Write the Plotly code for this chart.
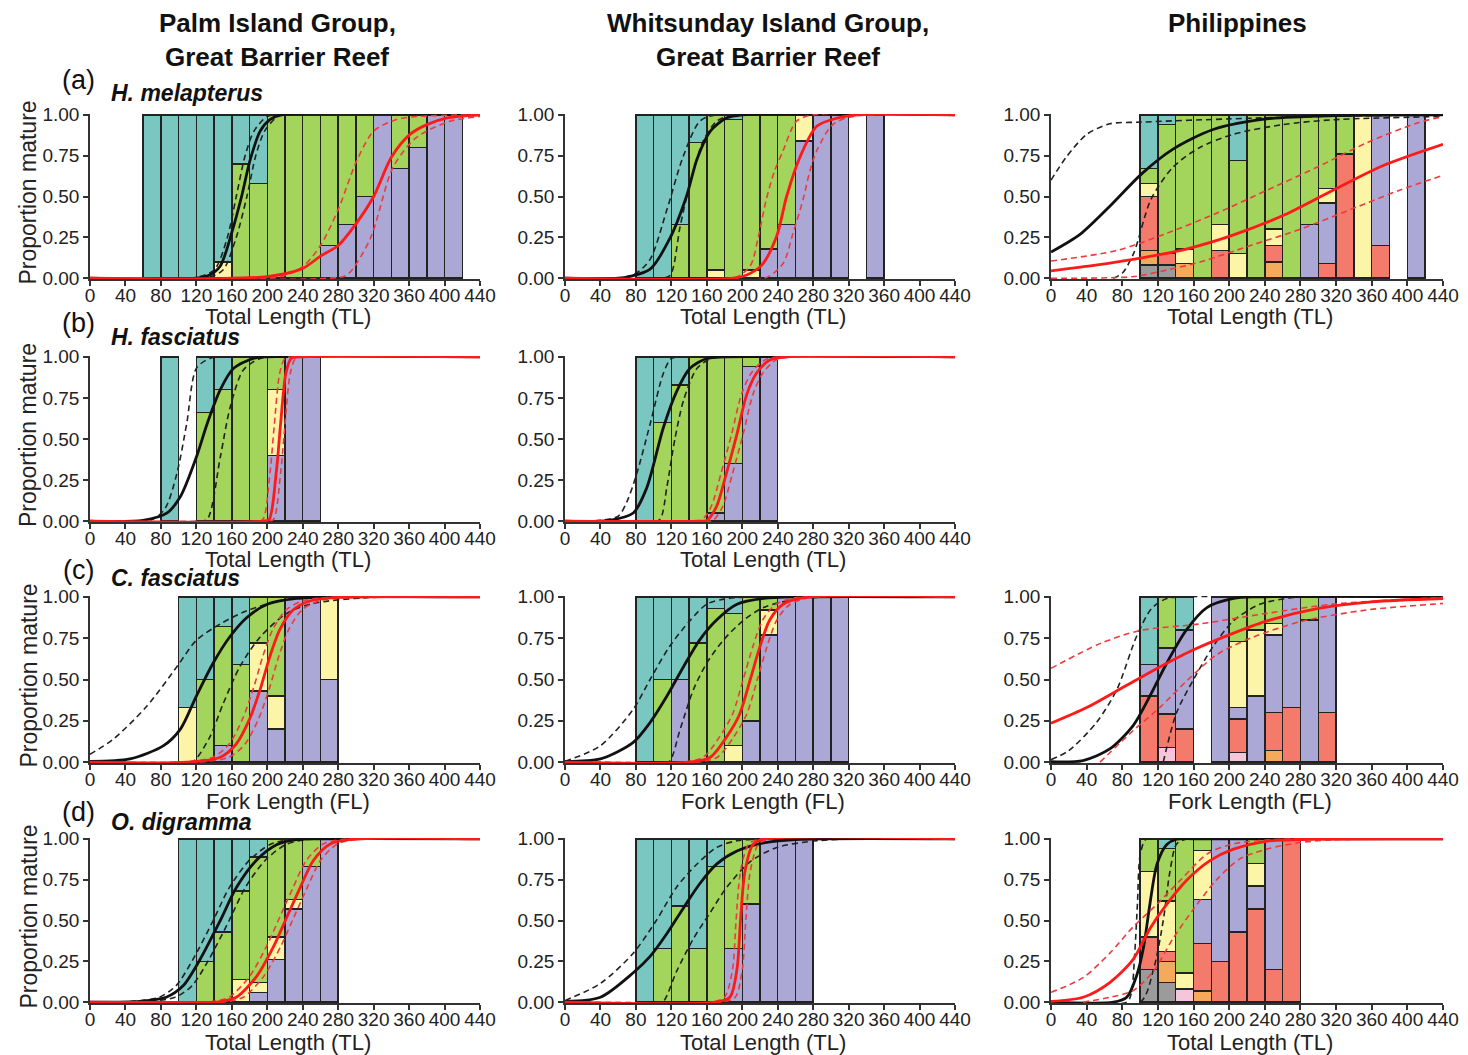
import plotly.graph_objects as go

# ---------------- DATA ----------------
X_TICKS = [0, 40, 80, 120, 160, 200, 240, 280, 320, 360, 400, 440]
Y_TICKS = [0, 0.25, 0.5, 0.75, 1.0]
Y_TICK_TEXT = ["0.00", "0.25", "0.50", "0.75", "1.00"]

COL_TITLES = [["Palm Island Group,", "Great Barrier Reef"],
              ["Whitsunday Island Group,", "Great Barrier Reef"],
              ["Philippines"]]
ROW_LABELS = ["(a)", "(b)", "(c)", "(d)"]
SPECIES = ["H. melapterus", "H. fasciatus", "C. fasciatus", "O. digramma"]
X_TITLES = ["Total Length (TL)", "Total Length (TL)", "Fork Length (FL)", "Total Length (TL)"]
Y_TITLE = "Proportion mature"

# ---- (a) H. melapterus, Palm ----
A1_BINS = [60, 80, 100, 120, 140, 160, 180, 200, 220, 240, 260, 280, 300, 320, 340, 360, 380, 400]
A1_YELLOW = [0, 0, 0, 0, 0.1, 0, 0, 0, 0, 0, 0, 0, 0, 0, 0, 0, 0, 0]
A1_PURPLE = [0, 0, 0, 0, 0, 0, 0, 0, 0, 0, 0.2, 0.33, 0.5, 1, 0.67, 0.8, 1, 1]
A1_GREEN = [0, 0, 0, 0, 0, 0.7, 0.58, 1, 1, 1, 0.8, 0.67, 0.5, 0, 0.33, 0.2, 0, 0]
A1_TEAL = [1, 1, 1, 1, 0.9, 0.3, 0.42, 0, 0, 0, 0, 0, 0, 0, 0, 0, 0, 0]
A1_F = [(0, 0), (120, 0), (135, 0.02), (147, 0.075), (160, 0.28), (171, 0.5), (181, 0.73), (192, 0.9), (203, 0.97), (215, 1), (440, 1)]
A1_F_LO = [(0, 0), (115, 0), (140, 0.05), (155, 0.25), (165, 0.5), (175, 0.75), (185, 0.9), (200, 0.99), (215, 1), (440, 1)]
A1_F_HI = [(0, 0), (130, 0), (150, 0.05), (165, 0.25), (177, 0.5), (187, 0.75), (197, 0.9), (212, 0.99), (225, 1), (440, 1)]
A1_M = [(0, 0), (200, 0.01), (240, 0.06), (260, 0.135), (280, 0.2), (301, 0.34), (320, 0.5), (340, 0.74), (361, 0.88), (380, 0.94), (402, 0.98), (440, 1)]
A1_M_LO = [(0, 0), (215, 0.01), (240, 0.07), (260, 0.2), (280, 0.42), (301, 0.72), (320, 0.9), (345, 0.97), (370, 0.99), (440, 1)]
A1_M_HI = [(0, 0), (270, 0), (290, 0.02), (316, 0.24), (342, 0.68), (368, 0.86), (406, 0.96), (440, 0.99)]

# ---- (a) H. melapterus, Whitsunday ----
A2_BINS = [80, 100, 120, 140, 160, 180, 200, 220, 240, 260, 280, 300, 340]
A2_PURPLE = [0, 0, 0, 0, 0, 0, 0, 0.18, 0.33, 0.84, 1, 1, 1]
A2_YELLOW = [0, 0, 0, 0, 0.05, 0, 0.05, 0, 0, 0.16, 0, 0, 0]
A2_GREEN = [0, 0, 0.33, 0.83, 0.95, 0.97, 0.95, 0.82, 0.67, 0, 0, 0, 0]
A2_TEAL = [1, 1, 0.67, 0.17, 0, 0.03, 0, 0, 0, 0, 0, 0, 0]
A2_F = [(0, 0), (60, 0), (73, 0.01), (96, 0.055), (118, 0.24), (137, 0.5), (149, 0.73), (164, 0.9), (182, 0.98), (200, 1), (440, 1)]
A2_F_LO = [(0, 0), (60, 0), (80, 0.03), (96, 0.115), (115, 0.42), (133, 0.74), (152, 0.96), (170, 1), (440, 1)]
A2_F_HI = [(0, 0), (110, 0), (119, 0.02), (130, 0.32), (141, 0.58), (156, 0.84), (171, 0.96), (190, 1), (440, 1)]
A2_M = [(0, 0), (190, 0), (205, 0.02), (222, 0.08), (239, 0.26), (250, 0.5), (265, 0.74), (284, 0.93), (307, 0.98), (330, 1), (440, 1)]
A2_M_LO = [(0, 0), (190, 0), (209, 0.075), (218, 0.25), (227, 0.48), (236, 0.65), (246, 0.78), (261, 0.96), (280, 1), (440, 1)]
A2_M_HI = [(0, 0), (225, 0), (246, 0.09), (257, 0.27), (269, 0.49), (276, 0.65), (284, 0.78), (302, 0.94), (325, 0.99), (440, 1)]

# ---- (a) H. melapterus, Philippines ----
A3_BINS = [100, 120, 140, 160, 180, 200, 220, 240, 260, 280, 300, 320, 340, 360, 400]
A3_GRAY = [0.08, 0.08, 0, 0, 0, 0, 0, 0, 0, 0, 0, 0, 0, 0, 0]
A3_ORANGE = [0.09, 0, 0.09, 0, 0, 0, 0, 0.1, 0, 0, 0, 0, 0, 0, 0]
A3_RED = [0.33, 0.07, 0, 0, 0.17, 0, 0, 0.1, 0, 0, 0.09, 0.76, 0, 0.2, 0]
A3_PURPLE = [0, 0, 0, 0, 0, 0, 0, 0, 0, 0.33, 0.37, 0, 0, 0.8, 1]
A3_YELLOW = [0.08, 0, 0.09, 0, 0.16, 0.15, 0, 0.1, 0, 0, 0.09, 0, 1, 0, 0]
A3_GREEN = [0.09, 0.79, 0.82, 1, 0.67, 0.57, 1, 0.7, 1, 0.67, 0.45, 0.24, 0, 0, 0]
A3_TEAL = [0.33, 0.06, 0, 0, 0, 0.28, 0, 0, 0, 0, 0, 0, 0, 0, 0]
A3_F = [(0, 0.16), (33, 0.27), (66, 0.44), (102, 0.64), (137, 0.79), (182, 0.91), (242, 0.975), (320, 0.995), (440, 1)]
A3_F_HI = [(0, 0.6), (17, 0.74), (40, 0.88), (66, 0.945), (100, 0.955), (200, 0.975), (300, 0.99), (440, 1)]
A3_F_LO = [(70, 0), (80, 0.03), (93, 0.155), (112, 0.48), (137, 0.68), (167, 0.8), (204, 0.88), (260, 0.94), (317, 0.97), (440, 0.99)]
A3_M = [(0, 0.045), (50, 0.08), (102, 0.125), (153, 0.18), (205, 0.265), (261, 0.385), (317, 0.54), (373, 0.69), (440, 0.82)]
A3_M_HI = [(0, 0.105), (74, 0.17), (130, 0.275), (187, 0.4), (243, 0.54), (299, 0.68), (355, 0.83), (411, 0.95), (440, 0.99)]
A3_M_LO = [(0, 0), (93, 0.01), (130, 0.05), (168, 0.1), (224, 0.2), (280, 0.3), (336, 0.42), (392, 0.54), (440, 0.63)]

# ---- (b) H. fasciatus, Palm ----
B1_BINS = [80, 120, 140, 160, 180, 200, 220, 240]
B1_PURPLE = [0, 0, 0, 0, 0, 0.4, 1, 1]
B1_YELLOW = [0, 0, 0, 0, 0, 0.4, 0, 0]
B1_GREEN = [0, 0.66, 0.8, 1, 1, 0.2, 0, 0]
B1_TEAL = [1, 0.34, 0.2, 0, 0, 0, 0, 0]
B1_F = [(0, 0), (60, 0.005), (87, 0.05), (102, 0.15), (120, 0.39), (132, 0.59), (147, 0.8), (162, 0.93), (184, 0.99), (200, 1), (440, 1)]
B1_F_LO = [(0, 0), (70, 0.01), (85, 0.08), (98, 0.29), (109, 0.59), (120, 0.93), (135, 0.99), (150, 1), (440, 1)]
B1_F_HI = [(0, 0), (120, 0), (132, 0.01), (147, 0.39), (158, 0.69), (173, 0.92), (192, 0.99), (210, 1), (440, 1)]
B1_M = [(0, 0), (195, 0), (202, 0.01), (210, 0.29), (215, 0.59), (221, 0.9), (227, 0.99), (240, 1), (440, 1)]
B1_M_LO = [(0, 0), (188, 0), (195, 0.01), (203, 0.29), (208, 0.59), (214, 0.9), (220, 0.99), (233, 1), (440, 1)]
B1_M_HI = [(0, 0), (200, 0), (207, 0.01), (215, 0.29), (220, 0.59), (226, 0.9), (232, 0.99), (245, 1), (440, 1)]

# ---- (b) H. fasciatus, Whitsunday ----
B2_BINS = [80, 100, 120, 140, 160, 180, 200, 220]
B2_PURPLE = [0, 0, 0, 0, 0.05, 0.35, 0.94, 1]
B2_GREEN = [0, 0.6, 0.83, 1, 0.95, 0.65, 0.06, 0]
B2_TEAL = [1, 0.4, 0.17, 0, 0, 0, 0, 0]
B2_F = [(0, 0), (50, 0.005), (77, 0.05), (92, 0.2), (111, 0.57), (126, 0.79), (141, 0.93), (160, 0.99), (180, 1), (440, 1)]
B2_F_LO = [(0, 0), (40, 0.005), (60, 0.03), (70, 0.12), (81, 0.29), (96, 0.59), (111, 0.9), (120, 0.99), (135, 1), (440, 1)]
B2_F_HI = [(0, 0), (95, 0), (107, 0.01), (115, 0.21), (124, 0.5), (134, 0.74), (149, 0.93), (165, 0.99), (180, 1), (440, 1)]
B2_M = [(0, 0), (150, 0), (160, 0.005), (171, 0.09), (182, 0.29), (194, 0.53), (205, 0.77), (216, 0.9), (231, 0.98), (250, 1), (440, 1)]
B2_M_LO = [(0, 0), (144, 0), (154, 0.005), (165, 0.09), (176, 0.29), (188, 0.53), (199, 0.77), (210, 0.9), (225, 0.98), (244, 1), (440, 1)]
B2_M_HI = [(0, 0), (157, 0), (167, 0.005), (178, 0.09), (189, 0.29), (201, 0.53), (212, 0.77), (223, 0.9), (238, 0.98), (257, 1), (440, 1)]

# ---- (c) C. fasciatus, Palm ----
C1_BINS = [100, 120, 140, 160, 180, 200, 220, 240, 260]
C1_PURPLE = [0, 0, 0.1, 0, 0.43, 0.2, 1, 1, 0.5]
C1_YELLOW = [0.33, 0, 0, 0, 0.29, 0.2, 0, 0, 0.5]
C1_GREEN = [0, 0.5, 0.72, 0.59, 0.28, 0.6, 0, 0, 0]
C1_TEAL = [0.67, 0.5, 0.18, 0.41, 0, 0, 0, 0, 0]
C1_F = [(0, 0.005), (45, 0.02), (83, 0.1), (102, 0.2), (120, 0.4), (139, 0.6), (158, 0.76), (177, 0.875), (200, 0.955), (233, 0.99), (270, 1), (440, 1)]
C1_F_HI = [(0, 0.048), (26, 0.138), (64, 0.338), (98, 0.577), (120, 0.737), (147, 0.836), (177, 0.916), (214, 0.976), (252, 0.996), (300, 1), (440, 1)]
C1_F_LO = [(0, 0), (110, 0), (117, 0.005), (135, 0.15), (150, 0.35), (169, 0.577), (192, 0.757), (222, 0.9), (252, 0.96), (312, 0.995), (440, 1)]
C1_M = [(0, 0), (110, 0), (147, 0.03), (165, 0.11), (180, 0.26), (192, 0.44), (203, 0.64), (214, 0.8), (229, 0.92), (248, 0.975), (275, 0.995), (440, 1)]
C1_M_LO = [(0, 0), (102, 0), (139, 0.03), (157, 0.11), (172, 0.26), (184, 0.44), (195, 0.64), (206, 0.8), (221, 0.92), (240, 0.975), (267, 0.995), (440, 1)]
C1_M_HI = [(0, 0), (120, 0), (157, 0.03), (175, 0.11), (190, 0.26), (202, 0.44), (213, 0.64), (224, 0.8), (239, 0.92), (258, 0.975), (285, 0.995), (440, 1)]

# ---- (c) C. fasciatus, Whitsunday ----
C2_BINS = [80, 100, 120, 140, 160, 180, 200, 220, 240, 260, 280, 300]
C2_PURPLE = [0, 0, 0.5, 0, 0, 0, 0.25, 0.77, 1, 1, 1, 1]
C2_YELLOW = [0, 0, 0, 0, 0, 0.1, 0, 0.15, 0, 0, 0, 0]
C2_GREEN = [0, 0.5, 0, 0.72, 0.93, 0.8, 0.75, 0.08, 0, 0, 0, 0]
C2_TEAL = [1, 0.5, 0.5, 0.28, 0.07, 0.1, 0, 0, 0, 0, 0, 0]
C2_F = [(0, 0.005), (40, 0.02), (77, 0.12), (96, 0.24), (115, 0.4), (134, 0.58), (152, 0.74), (171, 0.86), (194, 0.955), (224, 0.99), (260, 1), (440, 1)]
C2_F_HI = [(0, 0.005), (40, 0.1), (77, 0.32), (96, 0.5), (118, 0.7), (141, 0.856), (160, 0.956), (179, 0.986), (210, 1), (440, 1)]
C2_F_LO = [(0, 0), (110, 0), (118, 0.005), (130, 0.2), (145, 0.44), (160, 0.6), (179, 0.74), (201, 0.856), (224, 0.936), (261, 0.986), (300, 1), (440, 1)]
C2_M = [(0, 0), (140, 0), (164, 0.03), (182, 0.15), (197, 0.29), (209, 0.5), (220, 0.7), (231, 0.86), (246, 0.955), (269, 0.995), (440, 1)]
C2_M_LO = [(0, 0), (132, 0), (156, 0.03), (174, 0.15), (189, 0.29), (201, 0.5), (212, 0.7), (223, 0.86), (238, 0.955), (261, 0.995), (440, 1)]
C2_M_HI = [(0, 0), (148, 0), (172, 0.03), (190, 0.15), (205, 0.29), (217, 0.5), (228, 0.7), (239, 0.86), (254, 0.955), (277, 0.995), (440, 1)]

# ---- (c) C. fasciatus, Philippines ----
C3_BINS = [100, 120, 140, 180, 200, 220, 240, 260, 280, 300]
C3_PINK = [0, 0.09, 0, 0, 0.06, 0, 0, 0, 0, 0]
C3_ORANGE = [0, 0, 0, 0, 0, 0, 0.07, 0, 0, 0]
C3_RED = [0.4, 0.2, 0.2, 0, 0.2, 0, 0.23, 0.33, 0, 0.3]
C3_PURPLE = [0.19, 0.4, 0.6, 1, 0.07, 0.4, 0.47, 0.67, 0.86, 0.7]
C3_YELLOW = [0, 0, 0, 0, 0.4, 0.4, 0.07, 0, 0, 0]
C3_GREEN = [0, 0.31, 0, 0, 0.27, 0.2, 0.16, 0, 0.14, 0]
C3_TEAL = [0.41, 0, 0.2, 0, 0, 0, 0, 0, 0, 0]
C3_F = [(0, 0.003), (36, 0.01), (66, 0.08), (92, 0.22), (111, 0.4), (130, 0.6), (152, 0.8), (175, 0.935), (205, 0.99), (230, 1), (440, 1)]
C3_F_HI = [(0, 0.015), (20, 0.07), (51, 0.24), (74, 0.44), (96, 0.76), (113, 0.93), (130, 0.99), (150, 1), (440, 1)]
C3_F_LO = [(126, 0), (141, 0.3), (160, 0.5), (182, 0.7), (205, 0.856), (235, 0.956), (272, 0.996), (300, 1), (440, 1)]
C3_M = [(0, 0.235), (40, 0.33), (80, 0.45), (120, 0.57), (160, 0.68), (200, 0.77), (240, 0.85), (300, 0.93), (360, 0.97), (440, 0.99)]
C3_M_HI = [(0, 0.567), (55, 0.717), (100, 0.796), (167, 0.836), (242, 0.9), (317, 0.956), (440, 0.996)]
C3_M_LO = [(55, 0), (92, 0.19), (122, 0.33), (152, 0.49), (186, 0.65), (224, 0.75), (280, 0.85), (354, 0.92), (440, 0.96)]

# ---- (d) O. digramma, Palm ----
D1_BINS = [100, 120, 140, 160, 180, 200, 220, 240, 260]
D1_PURPLE = [0, 0, 0, 0, 0.06, 0.26, 0.57, 0.83, 1]
D1_YELLOW = [0, 0, 0, 0.14, 0.06, 0.14, 0.06, 0, 0]
D1_GREEN = [0, 0.25, 0.43, 0.54, 0.77, 0.6, 0.37, 0.17, 0]
D1_TEAL = [1, 0.75, 0.57, 0.32, 0.11, 0, 0, 0, 0]
D1_F = [(0, 0), (56, 0.005), (86, 0.03), (105, 0.1), (124, 0.26), (147, 0.5), (165, 0.7), (188, 0.87), (211, 0.965), (233, 0.995), (260, 1), (440, 1)]
D1_F_LO = [(0, 0), (48, 0.005), (78, 0.03), (97, 0.1), (116, 0.26), (139, 0.5), (157, 0.7), (180, 0.87), (203, 0.965), (225, 0.995), (252, 1), (440, 1)]
D1_F_HI = [(0, 0), (66, 0.005), (96, 0.03), (115, 0.1), (134, 0.26), (157, 0.5), (175, 0.7), (198, 0.87), (221, 0.965), (243, 0.995), (270, 1), (440, 1)]
D1_M = [(0, 0), (140, 0), (147, 0.004), (165, 0.03), (188, 0.158), (207, 0.34), (222, 0.52), (237, 0.7), (252, 0.867), (271, 0.968), (297, 0.998), (440, 1)]
D1_M_LO = [(0, 0), (132, 0), (139, 0.004), (157, 0.03), (180, 0.158), (199, 0.34), (214, 0.52), (229, 0.7), (244, 0.867), (263, 0.968), (289, 0.998), (440, 1)]
D1_M_HI = [(0, 0), (148, 0), (155, 0.004), (173, 0.03), (196, 0.158), (215, 0.34), (230, 0.52), (245, 0.7), (260, 0.867), (279, 0.968), (305, 0.998), (440, 1)]

# ---- (d) O. digramma, Whitsunday ----
D2_BINS = [80, 100, 120, 140, 160, 180, 200, 220, 240, 260]
D2_PURPLE = [0, 0, 0, 0, 0, 0.33, 0.6, 1, 1, 1]
D2_GREEN = [0, 0.33, 0.59, 0.33, 0.83, 0.67, 0.4, 0, 0, 0]
D2_TEAL = [1, 0.67, 0.41, 0.67, 0.17, 0, 0, 0, 0, 0]
D2_F = [(0, 0.005), (40, 0.03), (77, 0.18), (96, 0.28), (115, 0.42), (134, 0.58), (152, 0.725), (171, 0.845), (194, 0.925), (224, 0.975), (265, 0.997), (440, 1)]
D2_F_HI = [(0, 0.01), (40, 0.115), (77, 0.3), (103, 0.5), (126, 0.705), (149, 0.846), (171, 0.947), (194, 0.988), (230, 1), (440, 1)]
D2_F_LO = [(0, 0), (105, 0), (111, 0.005), (126, 0.19), (145, 0.39), (164, 0.55), (182, 0.7), (209, 0.86), (239, 0.947), (284, 0.988), (330, 1), (440, 1)]
D2_M = [(0, 0), (170, 0), (186, 0.03), (194, 0.2), (198, 0.5), (203, 0.8), (212, 0.965), (224, 0.998), (440, 1)]
D2_M_LO = [(0, 0), (165, 0), (180, 0.03), (189, 0.2), (193, 0.5), (198, 0.8), (207, 0.965), (219, 0.998), (440, 1)]
D2_M_HI = [(0, 0), (176, 0), (192, 0.03), (200, 0.2), (204, 0.5), (209, 0.8), (218, 0.965), (230, 0.998), (440, 1)]

# ---- (d) O. digramma, Philippines ----
D3_BINS = [100, 120, 140, 160, 180, 200, 220, 240, 260]
D3_GRAY = [0.2, 0.12, 0, 0, 0, 0, 0, 0, 0]
D3_PINK = [0, 0, 0.08, 0, 0, 0, 0, 0, 0]
D3_ORANGE = [0, 0.13, 0, 0.07, 0, 0, 0, 0, 0]
D3_RED = [0.2, 0.06, 0, 0.29, 0.25, 0.43, 0.57, 0.2, 1]
D3_PURPLE = [0, 0, 0, 0.27, 0.75, 0.57, 0.14, 0.8, 0]
D3_YELLOW = [0.4, 0.31, 0.1, 0.3, 0, 0, 0.14, 0, 0]
D3_GREEN = [0.2, 0.32, 0.82, 0.07, 0, 0, 0.15, 0, 0]
D3_TEAL = [0, 0.06, 0, 0, 0, 0, 0, 0, 0]
D3_F = [(0, 0), (70, 0), (85, 0.03), (96, 0.16), (104, 0.34), (111, 0.6), (119, 0.845), (130, 0.965), (141, 0.998), (160, 1), (440, 1)]
D3_F_LO = [(0, 0), (85, 0), (90, 0.05), (94, 0.3), (97, 0.6), (100, 0.9), (106, 0.995), (115, 1), (440, 1)]
D3_F_HI = [(0, 0), (100, 0), (115, 0.2), (126, 0.5), (133.5, 0.8), (141, 0.968), (152, 0.998), (165, 1), (440, 1)]
D3_M = [(0, 0.005), (36, 0.03), (66, 0.12), (92, 0.26), (111, 0.45), (130, 0.6), (152, 0.745), (178, 0.865), (204, 0.935), (242, 0.985), (300, 0.998), (440, 1)]
D3_M_HI = [(0, 0.06), (36, 0.15), (66, 0.3), (92, 0.46), (119, 0.6), (145, 0.745), (175, 0.906), (204, 0.968), (261, 0.998), (440, 1)]
D3_M_LO = [(36, 0), (66, 0.03), (92, 0.07), (115, 0.19), (137, 0.39), (160, 0.57), (186, 0.75), (212, 0.877), (242, 0.937), (280, 0.977), (317, 0.994), (440, 1)]

# ---------------- STYLE ----------------
W, H = 1468, 1055
COLS = [(90, 480), (565, 955), (1051, 1443)]
ROWS = [(114, 279), (356, 522), (596, 763), (838, 1003)]
COLOR = {"gray": "#9b9b9b", "pink": "#f5c6d9", "orange": "#f5a95b", "red": "#f47b6b",
         "purple": "#aba8d5", "yellow": "#fcf5a8", "green": "#a3d45b", "teal": "#7ac7c2"}
ORDER = ["gray", "pink", "orange", "red", "purple", "yellow", "green", "teal"]
FONT = "Liberation Sans, Arial, sans-serif"
AXC = "#333333"

PANELS = [
    (0, 0, A1_BINS, {"yellow": A1_YELLOW, "purple": A1_PURPLE, "green": A1_GREEN, "teal": A1_TEAL},
     (A1_F, A1_F_LO, A1_F_HI, A1_M, A1_M_LO, A1_M_HI)),
    (0, 1, A2_BINS, {"purple": A2_PURPLE, "yellow": A2_YELLOW, "green": A2_GREEN, "teal": A2_TEAL},
     (A2_F, A2_F_LO, A2_F_HI, A2_M, A2_M_LO, A2_M_HI)),
    (0, 2, A3_BINS, {"gray": A3_GRAY, "orange": A3_ORANGE, "red": A3_RED, "purple": A3_PURPLE,
                     "yellow": A3_YELLOW, "green": A3_GREEN, "teal": A3_TEAL},
     (A3_F, A3_F_LO, A3_F_HI, A3_M, A3_M_LO, A3_M_HI)),
    (1, 0, B1_BINS, {"purple": B1_PURPLE, "yellow": B1_YELLOW, "green": B1_GREEN, "teal": B1_TEAL},
     (B1_F, B1_F_LO, B1_F_HI, B1_M, B1_M_LO, B1_M_HI)),
    (1, 1, B2_BINS, {"purple": B2_PURPLE, "green": B2_GREEN, "teal": B2_TEAL},
     (B2_F, B2_F_LO, B2_F_HI, B2_M, B2_M_LO, B2_M_HI)),
    (2, 0, C1_BINS, {"purple": C1_PURPLE, "yellow": C1_YELLOW, "green": C1_GREEN, "teal": C1_TEAL},
     (C1_F, C1_F_LO, C1_F_HI, C1_M, C1_M_LO, C1_M_HI)),
    (2, 1, C2_BINS, {"purple": C2_PURPLE, "yellow": C2_YELLOW, "green": C2_GREEN, "teal": C2_TEAL},
     (C2_F, C2_F_LO, C2_F_HI, C2_M, C2_M_LO, C2_M_HI)),
    (2, 2, C3_BINS, {"pink": C3_PINK, "orange": C3_ORANGE, "red": C3_RED, "purple": C3_PURPLE,
                     "yellow": C3_YELLOW, "green": C3_GREEN, "teal": C3_TEAL},
     (C3_F, C3_F_LO, C3_F_HI, C3_M, C3_M_LO, C3_M_HI)),
    (3, 0, D1_BINS, {"purple": D1_PURPLE, "yellow": D1_YELLOW, "green": D1_GREEN, "teal": D1_TEAL},
     (D1_F, D1_F_LO, D1_F_HI, D1_M, D1_M_LO, D1_M_HI)),
    (3, 1, D2_BINS, {"purple": D2_PURPLE, "green": D2_GREEN, "teal": D2_TEAL},
     (D2_F, D2_F_LO, D2_F_HI, D2_M, D2_M_LO, D2_M_HI)),
    (3, 2, D3_BINS, {"gray": D3_GRAY, "pink": D3_PINK, "orange": D3_ORANGE, "red": D3_RED,
                     "purple": D3_PURPLE, "yellow": D3_YELLOW, "green": D3_GREEN, "teal": D3_TEAL},
     (D3_F, D3_F_LO, D3_F_HI, D3_M, D3_M_LO, D3_M_HI)),
]


def fx(px):
    return px / W


def fy(py):
    return 1 - py / H


fig = go.Figure()
layout = {}
for i, (r, c, bins, stacks, curves) in enumerate(PANELS):
    k = i + 1
    xs = "" if k == 1 else str(k)
    xname, yname = "x" + xs, "y" + xs
    x0, x1 = COLS[c]
    y0, y1 = ROWS[r]
    layout["xaxis" + xs] = dict(
        domain=[fx(x0), fx(x1)], anchor=yname, range=[0, 440], automargin=False,
        tickmode="array", tickvals=X_TICKS, ticktext=[str(t) for t in X_TICKS],
        ticks="outside", ticklen=5, tickwidth=1.5, tickcolor=AXC, ticklabelstandoff=-7,
        showline=True, linecolor=AXC, linewidth=1.5, showgrid=False, zeroline=False,
        tickfont=dict(family=FONT, size=19, color="#222"))
    layout["yaxis" + xs] = dict(
        domain=[fy(y1), fy(y0)], anchor=xname, range=[-0.005, 1.005], automargin=False,
        tickmode="array", tickvals=Y_TICKS, ticktext=Y_TICK_TEXT,
        ticks="outside", ticklen=5, tickwidth=1.5, tickcolor=AXC,
        showline=True, linecolor=AXC, linewidth=1.5, showgrid=False, zeroline=False,
        tickfont=dict(family=FONT, size=19, color="#222"))
    centers = [b + 10 for b in bins]
    for cat in ORDER:
        if cat not in stacks:
            continue
        vals = [v if v > 0 else None for v in stacks[cat]]
        fig.add_trace(go.Bar(x=centers, y=vals, width=20, xaxis=xname, yaxis=yname,
                             marker=dict(color=COLOR[cat], line=dict(color="#222", width=1.5)),
                             showlegend=False, hoverinfo="skip"))
    f, flo, fhi, m, mlo, mhi = curves
    styles = [(flo, "#222", 1.6, "6px,4px"), (fhi, "#222", 1.6, "6px,4px"),
              (f, "#111", 2.8, "solid"),
              (mlo, "#ee3a3f", 1.6, "6px,4px"), (mhi, "#ee3a3f", 1.6, "6px,4px"),
              (m, "#ff1a1a", 2.8, "solid")]
    for pts, col, wd, dash in styles:
        fig.add_trace(go.Scatter(x=[p[0] for p in pts], y=[p[1] for p in pts], mode="lines",
                                 xaxis=xname, yaxis=yname, showlegend=False, hoverinfo="skip",
                                 line=dict(color=col, width=wd, dash=dash, shape="spline", smoothing=0.8)))

ann = []
COL_CENTERS = [277, 768, 1237]
for ci, lines in enumerate(COL_TITLES):
    for li, t in enumerate(lines):
        ann.append(dict(x=fx(COL_CENTERS[ci]), y=fy(23 + 34 * li), text="<b>%s</b>" % t,
                        xref="paper", yref="paper",
                        showarrow=False, xanchor="center", yanchor="middle",
                        font=dict(family=FONT, size=26, color="#111")))
LABEL_Y = [80, 323, 570, 812]
SPECIES_Y = [93, 337, 578, 822]
for r in range(4):
    ann.append(dict(x=fx(78), y=fy(LABEL_Y[r]), text=ROW_LABELS[r], showarrow=False,
                    xref="paper", yref="paper",
                    xanchor="center", yanchor="middle", font=dict(family=FONT, size=27, color="#111")))
    ann.append(dict(x=fx(109), y=fy(SPECIES_Y[r]), text="<b><i>%s</i></b>" % SPECIES[r], showarrow=False,
                    xref="paper", yref="paper",
                    xanchor="left", yanchor="middle", font=dict(family=FONT, size=23, color="#111")))
    yc = (ROWS[r][0] + ROWS[r][1]) / 2 - 4
    ann.append(dict(x=fx(28), y=fy(yc), text=Y_TITLE, textangle=-90, showarrow=False,
                    xref="paper", yref="paper",
                    xanchor="center", yanchor="middle", font=dict(family=FONT, size=23, color="#222")))
XT_Y = [316, 559, 801, 1042]
for (r, c, bins, stacks, curves) in PANELS:
    xc = (COLS[c][0] + COLS[c][1]) / 2 + 3
    ann.append(dict(x=fx(xc), y=fy(XT_Y[r]), text=X_TITLES[r], showarrow=False,
                    xref="paper", yref="paper",
                    xanchor="center", yanchor="middle", font=dict(family=FONT, size=22, color="#222")))

fig.update_layout(width=W, height=H, margin=dict(l=0, r=0, t=0, b=0),
                  paper_bgcolor="white", plot_bgcolor="white", barmode="stack",
                  showlegend=False, annotations=ann, **layout)
fig.write_html("out.html")
